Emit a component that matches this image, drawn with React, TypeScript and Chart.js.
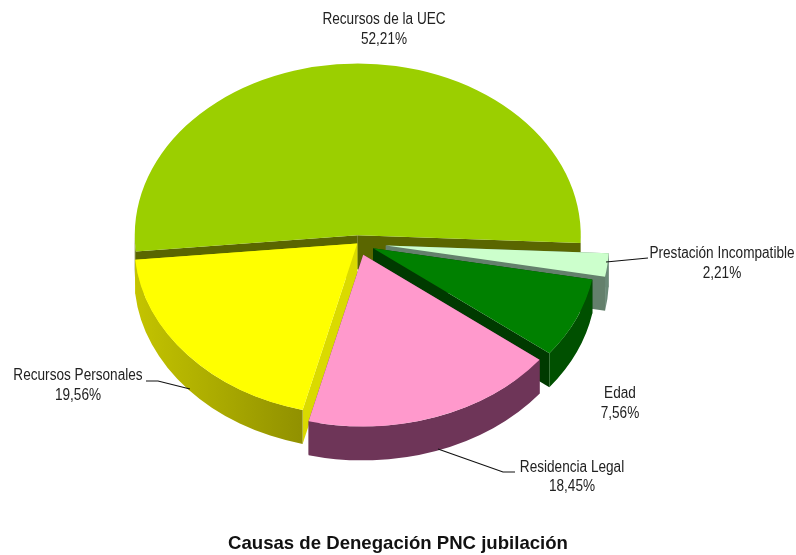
import { useEffect, useRef } from "react";
import { Chart, registerables } from "chart.js";

Chart.register(...registerables);

const categories = ["Recursos de la UEC", "Prestación Incompatible", "Edad", "Residencia Legal", "Recursos Personales"];
const values = [52.21, 2.21, 7.56, 18.45, 19.56];
const percentLabels = ["52,21%", "2,21%", "7,56%", "18,45%", "19,56%"];
const topColors = ["#9BCF00", "#CCFFCC", "#008000", "#FF99CC", "#FFFF00"];
const cutWallColors = ["#5A6600", "#64806C", "#003A00", "#6E3558", "#DADA00"];
const rimStartColors = ["#5A6600", "#6B8A78", "#005000", "#6E3558", "#C4C400"];
const rimEndColors = ["#5A6600", "#6B8A78", "#005000", "#6E3558", "#808000"];
const explode = [10, 28, 16.5, 16, 1];
const drawOrder = [0, 1, 2, 4, 3];

const PIVOT_X = 358;
const PIVOT_Y = 243;
const TILT = 0.77;
const DEPTH = 34;
const RADIUS = 223;
const ROTATION = 264.6;

const labelPlaces = [
  { x: 384, y: 20 },
  { x: 722, y: 254 },
  { x: 620, y: 394 },
  { x: 572, y: 467.5 },
  { x: 78, y: 376 },
];
const LABEL_LINE = 19.5;
const LABEL_NARROWING = 0.85;
const leaders = [
  [[606, 262], [648, 258]],
  [[146, 381], [158, 381], [190, 389]],
  [[438, 449], [503, 472], [515, 472]],
];

const pie3d = {
  id: "pie3d",
  beforeDatasetsDraw(chart: any) {
    const ctx = chart.ctx as CanvasRenderingContext2D;
    const arcs = chart.getDatasetMeta(0).data as any[];
    const apex = (arc: any, i: number) => {
      const mid = (arc.startAngle + arc.endAngle) / 2;
      return {
        mid,
        x: PIVOT_X + Math.cos(mid) * explode[i],
        y: PIVOT_Y + Math.sin(mid) * explode[i] * TILT,
      };
    };
    drawOrder.forEach((i) => {
      const arc = arcs[i];
      const a = apex(arc, i);
      const r = arc.outerRadius;
      ctx.fillStyle = cutWallColors[i];
      [arc.startAngle, arc.endAngle].forEach((ang: number) => {
        const rx = a.x + Math.cos(ang) * r;
        const ry = a.y + Math.sin(ang) * r * TILT;
        ctx.beginPath();
        ctx.moveTo(a.x, a.y);
        ctx.lineTo(rx, ry);
        ctx.lineTo(rx, ry + DEPTH);
        ctx.lineTo(a.x, a.y + DEPTH);
        ctx.closePath();
        ctx.fill();
      });
      const grad = ctx.createLinearGradient(a.x - r, 0, a.x, 0);
      grad.addColorStop(0, rimStartColors[i]);
      grad.addColorStop(1, rimEndColors[i]);
      ctx.fillStyle = i === 4 ? grad : rimEndColors[i];
      const tau = Math.PI * 2;
      const norm = Math.floor(arc.startAngle / tau) * tau;
      const s = arc.startAngle - norm;
      const e = arc.endAngle - norm;
      [[0, Math.PI], [tau, tau + Math.PI]].forEach(([lo, hi]) => {
        const from = Math.max(s, lo);
        const to = Math.min(e, hi);
        if (to <= from) return;
        ctx.beginPath();
        ctx.ellipse(a.x, a.y, r, r * TILT, 0, from, to);
        ctx.ellipse(a.x, a.y + DEPTH, r, r * TILT, 0, to, from, true);
        ctx.closePath();
        ctx.fill();
      });
    });
    drawOrder.forEach((i) => {
      const arc = arcs[i];
      const a = apex(arc, i);
      ctx.save();
      ctx.translate(a.x, a.y);
      ctx.scale(1, TILT);
      ctx.translate(-arc.x, -arc.y);
      arc.draw(ctx);
      ctx.restore();
    });
    return false;
  },
  afterDraw(chart: any) {
    const ctx = chart.ctx as CanvasRenderingContext2D;
    ctx.save();
    ctx.strokeStyle = "#111111";
    ctx.lineWidth = 1.2;
    leaders.forEach((pts) => {
      ctx.beginPath();
      pts.forEach(([x, y], k) => (k ? ctx.lineTo(x, y) : ctx.moveTo(x, y)));
      ctx.stroke();
    });
    ctx.fillStyle = "#222222";
    ctx.font = '16px "Liberation Sans"';
    ctx.textAlign = "center";
    ctx.textBaseline = "middle";
    categories.forEach((name, i) => {
      const p = labelPlaces[i];
      ctx.save();
      ctx.translate(p.x, p.y);
      ctx.scale(LABEL_NARROWING, 1);
      ctx.fillText(name, 0, 0);
      ctx.fillText(percentLabels[i], 0, LABEL_LINE);
      ctx.restore();
    });
    ctx.restore();
  },
};

export default function App() {
  const ref = useRef<HTMLCanvasElement>(null);
  useEffect(() => {
    document.body.style.margin = "0";
    const chart = new Chart(ref.current!, {
      type: "pie",
      data: {
        labels: categories,
        datasets: [
          {
            data: values,
            backgroundColor: topColors,
            borderWidth: 0,
            clip: false,
          } as any,
        ],
      },
      options: {
        responsive: false,
        animation: false,
        rotation: ROTATION,
        radius: RADIUS,
        events: [],
        plugins: {
          legend: { display: false },
          tooltip: { enabled: false },
          title: {
            display: true,
            position: "bottom",
            text: "Causas de Denegación PNC jubilación",
            color: "#111111",
            font: { family: '"Liberation Sans"', size: 18.6, weight: "bold" },
            padding: { top: 0, bottom: 0 },
          },
        },
      } as any,
      plugins: [pie3d],
    });
    return () => chart.destroy();
  }, []);
  return <canvas ref={ref} width={796} height={555} style={{ display: "block", background: "#ffffff" }} />;
}
